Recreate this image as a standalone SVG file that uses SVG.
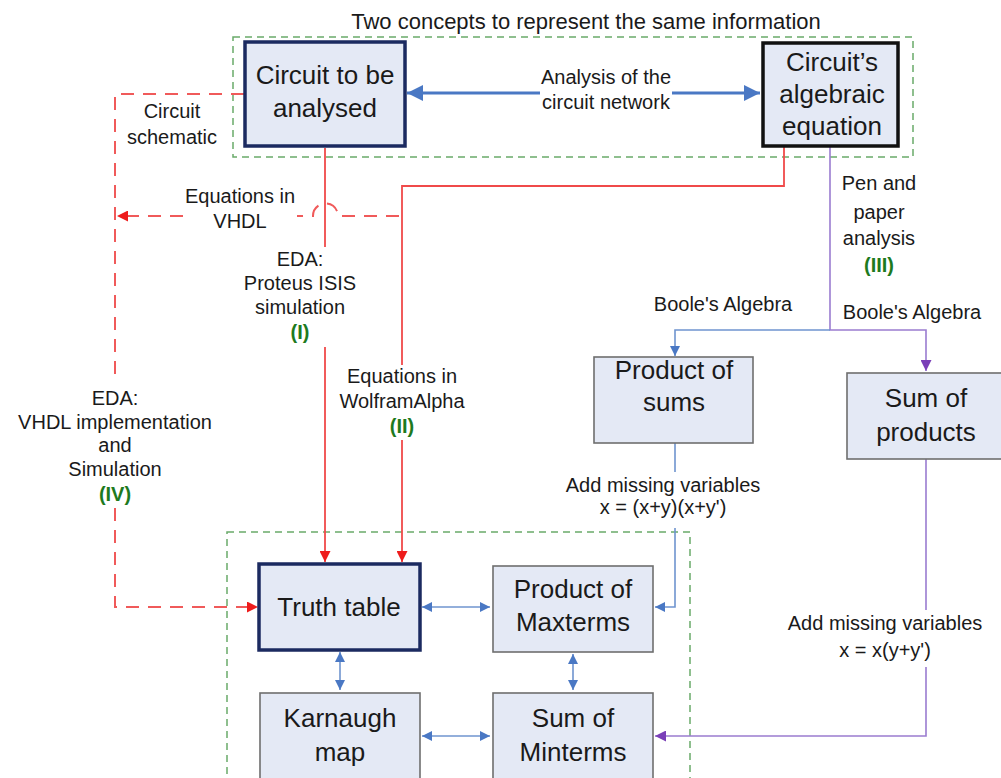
<svg xmlns="http://www.w3.org/2000/svg" width="1001" height="778" viewBox="0 0 1001 778">
<style>
text{font-family:"Liberation Sans",Arial,sans-serif;fill:#1a1a1a;text-anchor:middle}
.nt{font-size:26px}
.lb{font-size:20px}
.tt{font-size:22px}
.gr{fill:#1e7a1e;font-weight:bold}
.node{fill:#e4e9f5}
.thick{stroke:#1b2a60;stroke-width:3.5}
.blk{stroke:#111;stroke-width:3.5}
.thin{stroke:#6e6e6e;stroke-width:1.6}
.grp{fill:none;stroke:#6aaa6a;stroke-width:1.5;stroke-dasharray:7 5}
.c{fill:none}
.red{stroke:#f04a4a;stroke-width:1.8}
.redd{stroke:#f05a5a;stroke-width:2;stroke-dasharray:13 9}
.pur{stroke:#9a7cd0;stroke-width:1.6}
.blu{stroke:#6f94cf;stroke-width:1.6}
.bbig{stroke:#4a78c4;stroke-width:3.2}
</style>
<defs>
<marker id="ab" viewBox="0 0 10 10" refX="10" refY="5" markerUnits="userSpaceOnUse" markerWidth="18" markerHeight="16" orient="auto-start-reverse"><path d="M0,0 L10,5 L0,10 z" fill="#4a78c4"/></marker>
<marker id="as" viewBox="0 0 10 10" refX="10" refY="5" markerUnits="userSpaceOnUse" markerWidth="11" markerHeight="10" orient="auto-start-reverse"><path d="M0,0 L10,5 L0,10 z" fill="#4a78c4"/></marker>
<marker id="ar" viewBox="0 0 10 10" refX="10" refY="5" markerUnits="userSpaceOnUse" markerWidth="12" markerHeight="11" orient="auto"><path d="M0,0 L10,5 L0,10 z" fill="#ee1c1c"/></marker>
<marker id="ap" viewBox="0 0 10 10" refX="10" refY="5" markerUnits="userSpaceOnUse" markerWidth="12" markerHeight="11" orient="auto"><path d="M0,0 L10,5 L0,10 z" fill="#7a3fb8"/></marker>
</defs>
<rect width="1001" height="778" fill="#fff"/>
<g id="groups">
<rect class="grp" x="233" y="37" width="680" height="120"/>
<rect class="grp" x="227" y="532" width="463" height="270"/>
<text class="tt" x="586" y="29">Two concepts to represent the same information</text>
</g>
<g id="connectors">
<path class="c bbig" d="M407,93 H540 M672,93 H760" marker-start="url(#ab)" marker-end="url(#ab)"/>
<path class="c redd" d="M244,94 H115 V382 M115,508 V607 H258" marker-end="url(#ar)"/>
<path class="c redd" d="M399,216 H338 A12.5,12.5 0 0 0 313,216 H297 M183,216 H117" marker-end="url(#ar)"/>
<path class="c red" d="M325,148 V247 M325,347 V562" marker-end="url(#ar)"/>
<path class="c red" d="M784,146 V186 H402 V365 M402,440 V562" marker-end="url(#ar)"/>
<path class="c pur" d="M830,146 V330 H926 V371" marker-end="url(#ap)"/>
<path class="c blu" d="M830,330 H675 V356" marker-end="url(#as)"/>
<path class="c blu" d="M675,443 V472 M675,528 V607 H655" marker-end="url(#as)"/>
<path class="c pur" d="M926,459 V610 M926,667 V736 H655" marker-end="url(#ap)"/>
<path class="c blu" d="M422,607 H490" marker-start="url(#as)" marker-end="url(#as)"/>
<path class="c blu" d="M340,652 V690" marker-start="url(#as)" marker-end="url(#as)"/>
<path class="c blu" d="M573,654 V690" marker-start="url(#as)" marker-end="url(#as)"/>
<path class="c blu" d="M422,736 H490" marker-start="url(#as)" marker-end="url(#as)"/>
</g>
<g id="labels">
<text class="lb" x="606" y="84">Analysis of the</text>
<text class="lb" x="606" y="109">circuit network</text>
<text class="lb" x="172" y="118">Circuit</text>
<text class="lb" x="172" y="144">schematic</text>
<text class="lb" x="240" y="203">Equations in</text>
<text class="lb" x="240" y="228">VHDL</text>
<text class="lb" x="300" y="266">EDA:</text>
<text class="lb" x="300" y="290">Proteus ISIS</text>
<text class="lb" x="300" y="314">simulation</text>
<text class="lb gr" x="300" y="339">(I)</text>
<text class="lb" x="402" y="383">Equations in</text>
<text class="lb" x="402" y="408">WolframAlpha</text>
<text class="lb gr" x="402" y="433">(II)</text>
<text class="lb" x="115" y="405">EDA:</text>
<text class="lb" x="115" y="429">VHDL implementation</text>
<text class="lb" x="115" y="452">and</text>
<text class="lb" x="115" y="476">Simulation</text>
<text class="lb gr" x="115" y="501">(IV)</text>
<text class="lb" x="879" y="190">Pen and</text>
<text class="lb" x="879" y="219">paper</text>
<text class="lb" x="879" y="245">analysis</text>
<text class="lb gr" x="879" y="272">(III)</text>
<text class="lb" x="723" y="311">Boole's Algebra</text>
<text class="lb" x="912" y="319">Boole's Algebra</text>
<text class="lb" x="663" y="492">Add missing variables</text>
<text class="lb" x="663" y="514">x = (x+y)(x+y')</text>
<text class="lb" x="885" y="630">Add missing variables</text>
<text class="lb" x="885" y="657">x = x(y+y')</text>
</g>
<g id="n-circuit">
<rect class="node thick" x="245" y="42" width="160" height="104"/>
<text class="nt" x="325" y="84">Circuit to be</text>
<text class="nt" x="325" y="117">analysed</text>
</g>
<g id="n-equation">
<rect class="node blk" x="763" y="43" width="135" height="103"/>
<text class="nt" x="832" y="71">Circuit’s</text>
<text class="nt" x="832" y="103">algebraic</text>
<text class="nt" x="832" y="135">equation</text>
</g>
<g id="n-pos">
<rect class="node thin" x="594" y="357" width="159" height="86"/>
<text class="nt" x="674" y="379">Product of</text>
<text class="nt" x="674" y="411">sums</text>
</g>
<g id="n-sop">
<rect class="node thin" x="847" y="373" width="158" height="86"/>
<text class="nt" x="926" y="407">Sum of</text>
<text class="nt" x="926" y="441">products</text>
</g>
<g id="n-truth">
<rect class="node thick" x="259" y="564" width="161" height="86"/>
<text class="nt" x="339" y="616">Truth table</text>
</g>
<g id="n-maxterms">
<rect class="node thin" x="493" y="566" width="160" height="86"/>
<text class="nt" x="573" y="598">Product of</text>
<text class="nt" x="573" y="631">Maxterms</text>
</g>
<g id="n-karnaugh">
<rect class="node thin" x="260" y="693" width="160" height="100"/>
<text class="nt" x="340" y="727">Karnaugh</text>
<text class="nt" x="340" y="761">map</text>
</g>
<g id="n-minterms">
<rect class="node thin" x="493" y="693" width="160" height="100"/>
<text class="nt" x="573" y="727">Sum of</text>
<text class="nt" x="573" y="761">Minterms</text>
</g>
</svg>
